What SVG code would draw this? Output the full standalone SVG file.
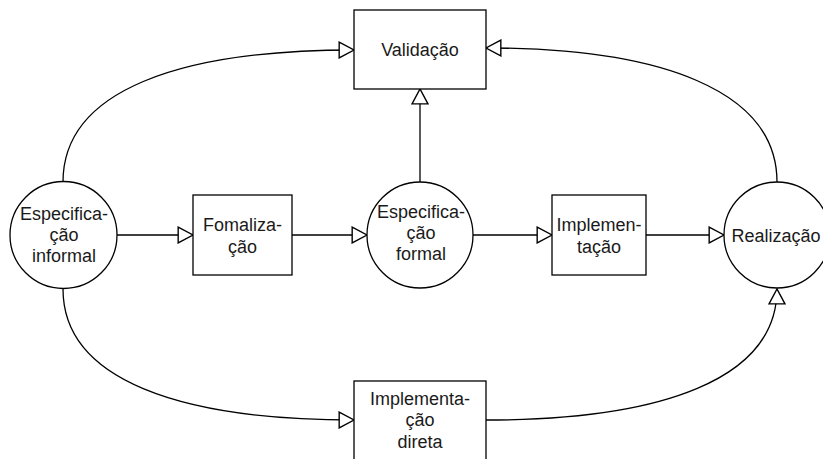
<svg xmlns="http://www.w3.org/2000/svg" width="823" height="459" viewBox="0 0 823 459">
<style>
.n{fill:#fff;stroke:#000;stroke-width:1.3}
.e{fill:none;stroke:#000;stroke-width:1.3}
text{font-family:"Liberation Sans",Arial,sans-serif;font-size:18px;fill:#1a1a1a;text-anchor:middle}
</style>
<defs>
<marker id="a" markerUnits="userSpaceOnUse" markerWidth="18" markerHeight="18" refX="15" refY="8.5" orient="auto" viewBox="0 0 17 17">
<path d="M1,1 L15,8.5 L1,16 Z" fill="#fff" stroke="#000" stroke-width="1.3"/>
</marker>
</defs>
<rect width="823" height="459" fill="#fff"/>
<g id="connectors">
<path class="e" d="M63,182 C63,90 180,50 354,50" marker-end="url(#a)"/>
<path class="e" d="M420,182 L420,89" marker-end="url(#a)"/>
<path class="e" d="M777,182 C777,90 660,48 486,48" marker-end="url(#a)"/>
<path class="e" d="M117,235 L193,235" marker-end="url(#a)"/>
<path class="e" d="M292,235 L367,235" marker-end="url(#a)"/>
<path class="e" d="M473,235 L552,235" marker-end="url(#a)"/>
<path class="e" d="M646,235 L724,235" marker-end="url(#a)"/>
<path class="e" d="M63,289 C63,380 180,420 354,420" marker-end="url(#a)"/>
<path class="e" d="M486,420 C660,420 777,380 777,289" marker-end="url(#a)"/>
</g>
<g id="validacao">
<rect class="n" x="354" y="10" width="132" height="79"/>
<text x="420" y="56">Validação</text>
</g>
<g id="espec-informal">
<circle class="n" cx="63.5" cy="235" r="53.5"/>
<text x="64" y="220">Especifica-</text>
<text x="64" y="241">ção</text>
<text x="64" y="262">informal</text>
</g>
<g id="fomalizacao">
<rect class="n" x="193" y="195" width="99" height="80"/>
<text x="242.5" y="231">Fomaliza-</text>
<text x="242.5" y="253">ção</text>
</g>
<g id="espec-formal">
<circle class="n" cx="420" cy="235" r="53"/>
<text x="421" y="218">Especifica-</text>
<text x="421" y="239">ção</text>
<text x="421" y="260">formal</text>
</g>
<g id="implementacao">
<rect class="n" x="552" y="195" width="94" height="80"/>
<text x="599" y="231">Implemen-</text>
<text x="599" y="253">tação</text>
</g>
<g id="realizacao">
<circle class="n" cx="777" cy="235" r="53"/>
<text x="776" y="242">Realização</text>
</g>
<g id="impl-direta">
<rect class="n" x="354" y="381" width="132" height="80"/>
<text x="420" y="405">Implementa-</text>
<text x="420" y="426">ção</text>
<text x="420" y="448">direta</text>
</g>
</svg>
